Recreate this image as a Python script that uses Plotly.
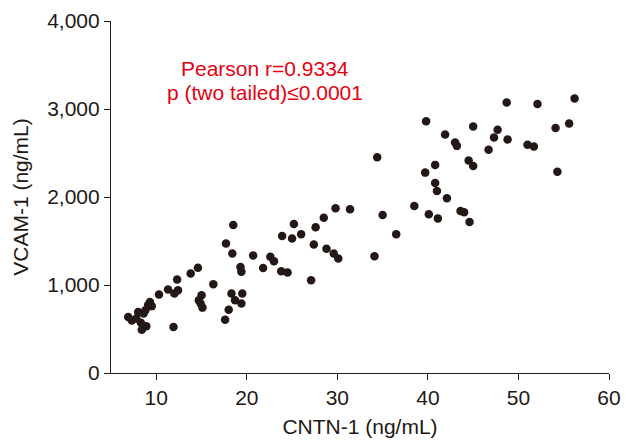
import plotly.graph_objects as go

cntn1 = [6.9, 7.3, 7.8, 8.0, 8.3, 8.6, 8.8, 9.1, 9.3, 9.5, 8.4, 8.9,
         10.3, 11.3, 12.0, 12.3, 12.4, 11.9, 13.8, 14.6, 15.0, 14.7, 14.9, 15.1,
         16.3, 17.7, 18.4, 18.5, 19.3, 19.4, 18.3, 19.5, 18.7, 19.4, 18.0, 17.6,
         20.7, 21.8, 22.6, 23.0, 23.8, 24.5, 23.9, 25.0, 25.2, 26.0, 27.1, 27.4,
         27.6, 28.5, 28.8, 29.6, 30.1, 29.8, 31.4, 34.1, 34.4, 35.0, 36.5, 38.5,
         39.7, 39.8, 40.1, 40.8, 40.8, 41.0, 41.1, 41.9, 42.1, 43.0, 43.2, 43.6,
         44.0, 44.6, 44.5, 45.0, 45.0, 46.7, 47.3, 47.7, 48.7, 48.8, 51.0, 51.7,
         52.1, 54.1, 54.3, 55.6, 56.2]
vcam1 = [636, 598, 620, 693, 570, 675, 712, 769, 807, 760, 492, 530,
         891, 948, 903, 1062, 940, 522, 1130, 1195, 883, 826, 789, 743,
         1009, 1472, 1358, 1681, 1205, 1150, 903, 903, 826, 789, 720, 606,
         1335, 1194, 1320, 1271, 1157, 1142, 1556, 1529, 1692, 1578, 1054, 1461,
         1655, 1764, 1411, 1358, 1301, 1871, 1860, 1328, 2452, 1795, 1578, 1897,
         2277, 2862, 1803, 2365, 2160, 2068, 1757, 2710, 1985, 2619, 2581, 1840,
         1826, 1715, 2414, 2353, 2801, 2536, 2676, 2764, 3075, 2653, 2593, 2573,
         3056, 2783, 2288, 2836, 3120]

x_ticks = [10, 20, 30, 40, 50, 60]
y_ticks = [0, 1000, 2000, 3000, 4000]

stat_lines = ["Pearson r=0.9334", "p (two tailed)≤0.0001"]

ink = "#231815"
red = "#e60012"
font = "Liberation Sans, Arial, sans-serif"

fig = go.Figure()
fig.add_trace(go.Scatter(
    x=cntn1, y=vcam1, mode="markers",
    marker=dict(size=8.5, color=ink, line=dict(width=0)),
    showlegend=False, hoverinfo="x+y"))

for txt, yv in zip(stat_lines, [3459, 3185]):
    fig.add_annotation(
        x=22.0, y=yv, xref="x", yref="y", text=txt,
        showarrow=False, font=dict(family=font, size=21, color=red),
        align="center", xanchor="center", yanchor="middle")

fig.update_layout(
    width=628, height=441,
    margin=dict(l=111, r=19, t=21, b=68),
    paper_bgcolor="white", plot_bgcolor="white",
    font=dict(family=font, color=ink),
)
fig.update_xaxes(
    range=[5, 60], tickvals=x_ticks, ticktext=[str(v) for v in x_ticks],
    showgrid=False, zeroline=False, showline=True, linecolor=ink, linewidth=1.2,
    ticks="outside", ticklen=6, tickwidth=1.2, tickcolor=ink, automargin=False,
    tickfont=dict(size=21, family=font, color=ink),
    title=dict(text="CNTN-1 (ng/mL)", font=dict(size=21, family=font, color=ink), standoff=11),
)
fig.update_yaxes(
    range=[0, 4000], tickvals=y_ticks, ticktext=[f"{v:,}" for v in y_ticks],
    showgrid=False, zeroline=False, showline=True, linecolor=ink, linewidth=1.2,
    ticks="outside", ticklen=6, tickwidth=1.2, tickcolor=ink, automargin=False,
    tickfont=dict(size=21, family=font, color=ink),
    title=dict(text="VCAM-1 (ng/mL)", font=dict(size=21, family=font, color=ink), standoff=12),
)

fig.write_html(
    "out.html",
    config={"displayModeBar": False},
    post_script="document.body.style.margin='0';document.body.style.overflow='hidden';",
)
